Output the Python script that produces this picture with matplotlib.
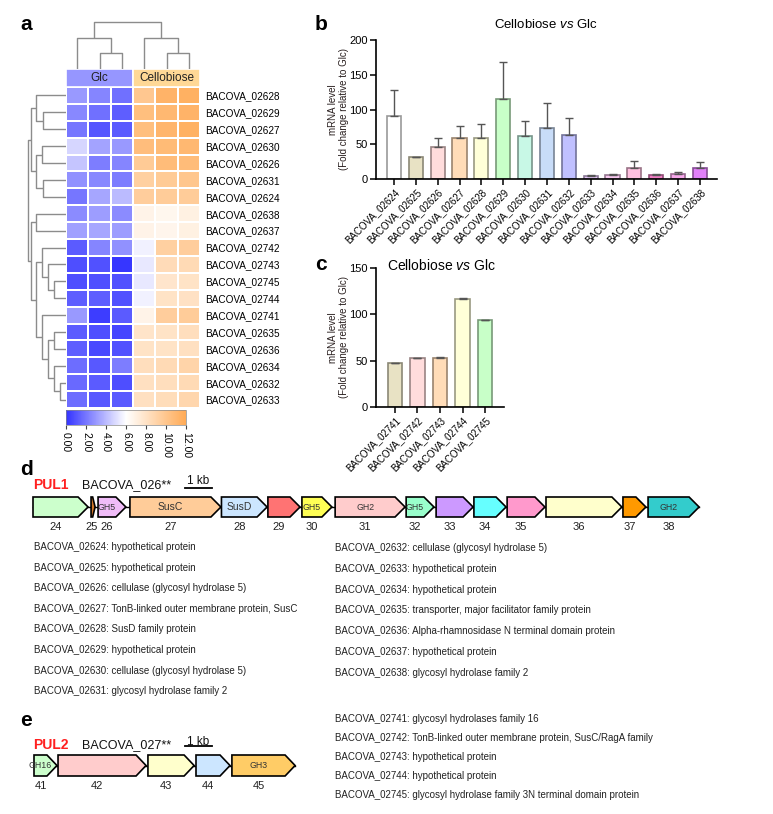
import numpy as np
import matplotlib
matplotlib.use('Agg')
import matplotlib.pyplot as plt
from matplotlib.colors import LinearSegmentedColormap, to_rgb
from matplotlib.patches import Polygon, Rectangle

plt.rcParams['font.family'] = ['Liberation Sans', 'DejaVu Sans']
plt.rcParams['mathtext.fontset'] = 'custom'
plt.rcParams['mathtext.it'] = 'Liberation Sans:italic'
plt.rcParams['mathtext.rm'] = 'Liberation Sans'

W, H = 773, 814

# ---------------- panel a : heatmap data ----------------
heat_genes = ['BACOVA_02628', 'BACOVA_02629', 'BACOVA_02627', 'BACOVA_02630',
              'BACOVA_02626', 'BACOVA_02631', 'BACOVA_02624', 'BACOVA_02638',
              'BACOVA_02637', 'BACOVA_02742', 'BACOVA_02743', 'BACOVA_02745',
              'BACOVA_02744', 'BACOVA_02741', 'BACOVA_02635', 'BACOVA_02636',
              'BACOVA_02634', 'BACOVA_02632', 'BACOVA_02633']
heat_glc = [[3.0, 2.4, 1.8], [2.5, 1.8, 1.3], [2.0, 1.0, 1.2], [4.8, 3.3, 3.0],
            [4.3, 2.2, 2.4], [2.8, 2.5, 2.2], [2.0, 3.4, 4.0], [2.6, 3.1, 2.6],
            [3.2, 3.4, 3.1], [1.2, 2.4, 2.8], [0.8, 0.9, 0.1], [0.8, 0.8, 0.9],
            [1.3, 1.3, 0.9], [3.0, 0.3, 1.2], [1.2, 0.8, 0.6], [1.3, 0.7, 0.9],
            [1.7, 1.1, 2.2], [1.6, 1.2, 0.8], [1.7, 1.1, 1.2]]
heat_cello = [[9.9, 11.3, 11.5], [10.5, 11.0, 11.3], [10.5, 11.2, 11.5], [10.6, 10.8, 11.0],
              [9.7, 10.7, 10.7], [9.3, 9.7, 10.0], [9.5, 9.6, 9.6], [6.8, 6.6, 7.0],
              [6.8, 6.7, 7.0], [5.6, 9.3, 9.5], [5.3, 8.5, 8.6], [5.3, 7.8, 8.0],
              [5.6, 8.0, 8.1], [6.8, 9.5, 9.6], [7.9, 8.0, 8.3], [8.0, 8.0, 8.2],
              [8.3, 8.6, 9.0], [8.2, 8.3, 8.6], [8.2, 8.4, 8.9]]
groups = ['Glc', 'Cellobiose']
cbar_ticks = [0, 2, 4, 6, 8, 10, 12]
# dendrograms: (height, left, right), leaves are column / row indices
col_tree = (47, (31, 0, (16, 1, 2)), (31, 3, (16, 4, 5)))
row_tree = (38,
            (35, (30, 0, (23, 1, 2)), (30, (24, 3, 4), (23, 5, 6))),
            (35, (30, 7, 8),
             (30, (24, 9, (18, 10, (12, 11, 12))),
              (24, 13, (18, (12, 14, 15), (12, 16, (6, 17, 18)))))))

# ---------------- panel b ----------------
b_genes = ['BACOVA_02624', 'BACOVA_02625', 'BACOVA_02626', 'BACOVA_02627', 'BACOVA_02628',
           'BACOVA_02629', 'BACOVA_02630', 'BACOVA_02631', 'BACOVA_02632', 'BACOVA_02633',
           'BACOVA_02634', 'BACOVA_02635', 'BACOVA_02636', 'BACOVA_02637', 'BACOVA_02638']
b_mean = [91, 31, 45.5, 58.5, 58.5, 115.5, 61.5, 73, 64, 3.8, 5.3, 15.3, 5.8, 7.2, 15.3]
b_err = [37, 0, 13, 17.5, 21, 52.5, 21.5, 37, 23.5, 1.5, 1.9, 10, 2, 2.4, 8.5]
b_colors = ['#ffffff', '#e8e2c4', '#ffdcdc', '#ffdcb8', '#ffffd8', '#c8ffc8', '#c8f8e6',
            '#c8dcf8', '#c0c0ff', '#e6c8f8', '#f8c8f0', '#ffc0e0', '#f07ec4', '#f8a8ec', '#e080f8']

# ---------------- panel c ----------------
c_genes = ['BACOVA_02741', 'BACOVA_02742', 'BACOVA_02743', 'BACOVA_02744', 'BACOVA_02745']
c_mean = [47, 52.8, 53.1, 116.8, 93.6]
c_err = [0.8, 0.5, 0.5, 1.0, 0.5]
c_colors = ['#e8e2c4', '#ffdcdc', '#ffdcb8', '#ffffd8', '#c8ffc8']

# ---------------- panel d ----------------
d_ids = ['24', '25', '26', '27', '28', '29', '30', '31', '32', '33', '34', '35', '36', '37', '38']
d_start = [0.0, 2.15, 2.41, 3.59, 6.98, 8.70, 9.96, 11.19, 13.82, 14.93, 16.33, 17.56, 19.00, 21.85, 22.78]
d_end = [2.04, 2.30, 3.44, 6.96, 8.67, 9.89, 11.07, 13.78, 14.85, 16.30, 17.52, 18.96, 21.81, 22.70, 24.67]
d_tags = ['', '', 'GH5', 'SusC', 'SusD', '', 'GH5', 'GH2', 'GH5', '', '', '', '', '', 'GH2']
d_colors = ['#ccffcc', '#d2782a', '#f0bcf8', '#ffcc99', '#cce6ff', '#ff7373', '#ffff55', '#ffcccc',
            '#99ffcc', '#cc99ff', '#66ffff', '#ff99cc', '#ffffcc', '#ff9900', '#33cccc']
d_left = ['BACOVA_02624: hypothetical protein',
          'BACOVA_02625: hypothetical protein',
          'BACOVA_02626: cellulase (glycosyl hydrolase 5)',
          'BACOVA_02627: TonB-linked outer membrane protein, SusC',
          'BACOVA_02628: SusD family protein',
          'BACOVA_02629: hypothetical protein',
          'BACOVA_02630: cellulase (glycosyl hydrolase 5)',
          'BACOVA_02631: glycosyl hydrolase family 2']
d_right = ['BACOVA_02632: cellulase (glycosyl hydrolase 5)',
           'BACOVA_02633: hypothetical protein',
           'BACOVA_02634: hypothetical protein',
           'BACOVA_02635: transporter, major facilitator family protein',
           'BACOVA_02636: Alpha-rhamnosidase N terminal domain protein',
           'BACOVA_02637: hypothetical protein',
           'BACOVA_02638: glycosyl hydrolase family 2']

# ---------------- panel e ----------------
e_ids = ['41', '42', '43', '44', '45']
e_start = [0.0, 0.89, 4.22, 6.00, 7.33]
e_end = [0.85, 4.15, 5.93, 7.26, 9.67]
e_tags = ['GH16', '', '', '', 'GH3']
e_colors = ['#ccffcc', '#ffcccc', '#ffffcc', '#cce6ff', '#ffcc66']
e_right = ['BACOVA_02741: glycosyl hydrolases family 16',
           'BACOVA_02742: TonB-linked outer membrane protein, SusC/RagA family',
           'BACOVA_02743: hypothetical protein',
           'BACOVA_02744: hypothetical protein',
           'BACOVA_02745: glycosyl hydrolase family 3N terminal domain protein']

KB_PX = 27.0


def px_axes(fig, x0, y0, x1, y1):
    return fig.add_axes([x0 / W, 1 - y1 / H, (x1 - x0) / W, (y1 - y0) / H])


def ftext(fig, x, y, s, **kw):
    kw.setdefault('va', 'center')
    fig.text(x / W, 1 - y / H, s, **kw)


def draw_tree(ax, tree, horizontal=False):
    if isinstance(tree, int):
        return tree + 0.5, 0.0
    h, left, right = tree
    p1, h1 = draw_tree(ax, left, horizontal)
    p2, h2 = draw_tree(ax, right, horizontal)
    ps = [p1, p1, p2, p2]
    hs = [h1, h, h, h2]
    if horizontal:
        ax.plot(hs, ps, color='#8c8c8c', lw=1.0, solid_capstyle='butt')
    else:
        ax.plot(ps, hs, color='#8c8c8c', lw=1.0, solid_capstyle='butt')
    return (p1 + p2) / 2, h


def darker(c, f=0.6):
    r, g, b = to_rgb(c)
    return (r * f, g * f, b * f)


def bar_panel(ax, names, mean, err, colors, ymax, step):
    x = np.arange(len(names))
    ax.bar(x, mean, width=0.65, color=colors,
           edgecolor=[darker(c) for c in colors], linewidth=1.2, zorder=2)
    ax.errorbar(x, mean, yerr=[np.zeros(len(err)), err], fmt='none',
                ecolor='#555555', elinewidth=1.0, capsize=3, capthick=1.0, zorder=3)
    ax.set_ylim(0, ymax)
    ax.set_yticks(np.arange(0, ymax + 1, step))
    ax.set_xticks(x)
    ax.set_xticklabels(names, rotation=45, ha='right', rotation_mode='anchor', fontsize=7)
    ax.tick_params(axis='y', labelsize=8, length=4, width=1.1, pad=2)
    ax.tick_params(axis='x', length=4, width=1.1, pad=2)
    for s in ['top', 'right']:
        ax.spines[s].set_visible(False)
    for s in ['left', 'bottom']:
        ax.spines[s].set_linewidth(1.2)
    ax.set_ylabel('mRNA level\n(Fold change relative to Glc)', fontsize=7, color='#2a2020',
                  linespacing=1.1)


def gene_track(fig, y0, y1, origin, starts, ends, colors, tags, ids, gy0, gy1, num_y, bar_x):
    ax = px_axes(fig, 0, y0, W, y1)
    ax.set_xlim(-origin / KB_PX, (W - origin) / KB_PX)
    ax.set_ylim(y1, y0)
    ax.axis('off')
    mid = (gy0 + gy1) / 2
    ax.plot([starts[0], ends[-1]], [mid, mid], color='black', lw=1.0, zorder=1)
    for s, e, c, t, n in zip(starts, ends, colors, tags, ids):
        tip = min(0.37, (e - s) * 0.6)
        pts = [(s, gy0), (e - tip, gy0), (e, mid), (e - tip, gy1), (s, gy1)]
        ax.add_patch(Polygon(pts, closed=True, facecolor=c, edgecolor='black', lw=1.2, zorder=2))
        cx = s + (e - s - tip) / 2
        if t:
            fs = 7.5 if t.startswith('Sus') else 6.3
            ax.text(cx, mid, t, ha='center', va='center', fontsize=fs, color='#333333', zorder=3)
        ax.text(cx, num_y, n, ha='center', va='center', fontsize=8, color='#222222')
    ax.plot([bar_x, bar_x + 1], [gy0 - 9, gy0 - 9], color='black', lw=1.3)
    return ax


def main():
    fig = plt.figure(figsize=(W / 100, H / 100), dpi=100)
    cmap = LinearSegmentedColormap.from_list('bwo', [(0, '#3333ff'), (0.5, '#ffffff'), (1, '#ffaa55')])

    # ---- a: heatmap
    data = np.hstack([np.array(heat_glc), np.array(heat_cello)])
    nrow = len(heat_genes)
    axh = px_axes(fig, 66, 87, 200, 408)
    mesh = axh.pcolormesh(data, cmap=cmap, vmin=0, vmax=12, edgecolors='white', linewidth=1.2)
    axh.set_xlim(0, 6)
    axh.set_ylim(nrow, 0)
    axh.set_xticks([])
    axh.yaxis.tick_right()
    axh.set_yticks(np.arange(nrow) + 0.5)
    axh.set_yticklabels(heat_genes, fontsize=7.2)
    axh.tick_params(axis='y', length=0, pad=4)
    for s in axh.spines.values():
        s.set_visible(False)

    axg = px_axes(fig, 66, 69, 200, 87)
    axg.set_xlim(0, 6)
    axg.set_ylim(0, 1)
    axg.axis('off')
    for i, (g, c) in enumerate(zip(groups, ['#9696ff', '#ffd896'])):
        axg.add_patch(Rectangle((3 * i, 0), 3, 1, facecolor=c, edgecolor='white', lw=1.2))
        axg.text(3 * i + 1.5, 0.5, g, ha='center', va='center', fontsize=8.5, color='#222222')

    axt = px_axes(fig, 66, 20, 200, 69)
    axt.set_xlim(0, 6)
    axt.set_ylim(0, 49)
    axt.axis('off')
    draw_tree(axt, col_tree)

    axl = px_axes(fig, 26, 87, 66, 408)
    axl.set_xlim(40, 0)
    axl.set_ylim(nrow, 0)
    axl.axis('off')
    draw_tree(axl, row_tree, horizontal=True)

    cax = px_axes(fig, 66, 410, 186, 425)
    cb = fig.colorbar(mesh, cax=cax, orientation='horizontal', ticks=cbar_ticks)
    cb.ax.set_xticklabels([f'{t:.2f}' for t in cbar_ticks], rotation=-90, fontsize=7.5)
    cb.outline.set_linewidth(0.5)
    cb.outline.set_edgecolor('#888888')
    cb.ax.tick_params(length=3, width=0.8, pad=2, color='#444444')

    # ---- b
    axb = px_axes(fig, 376, 40, 717, 179)
    bar_panel(axb, b_genes, b_mean, b_err, b_colors, 200, 50)
    axb.set_xlim(-0.82, 14.78)
    axb.yaxis.set_label_coords(-0.079, 0.5)
    ftext(fig, 546, 25, 'Cellobiose $\\it{vs}$ Glc', ha='center', fontsize=9.5)

    # ---- c
    axc = px_axes(fig, 376, 268, 504, 407)
    bar_panel(axc, c_genes, c_mean, c_err, c_colors, 150, 50)
    axc.set_xlim(-0.84, 4.84)
    axc.yaxis.set_label_coords(-0.21, 0.5)
    ftext(fig, 441, 265, 'Cellobiose $\\it{vs}$ Glc', ha='center', fontsize=10)

    # ---- panel letters
    for x, y, s in [(20, 25, 'a'), (315, 25, 'b'), (315, 265, 'c'), (20, 470, 'd'), (20, 721, 'e')]:
        ftext(fig, x, y, s, fontsize=15, fontweight='bold')

    # ---- d
    gene_track(fig, 470, 540, 33, d_start, d_end, d_colors, d_tags, d_ids, 497, 517, 527, (185 - 33) / KB_PX)
    ftext(fig, 33, 485, 'PUL1', fontsize=10, fontweight='bold', color='#ff2020')
    ftext(fig, 82, 485, 'BACOVA_026**', fontsize=9, color='#111111')
    ftext(fig, 198, 481, '1 kb', ha='center', fontsize=8.5, color='#111111')
    for i, s in enumerate(d_left):
        ftext(fig, 34, 547 + i * 20.6, s, fontsize=7, color='#222222')
    for i, s in enumerate(d_right):
        ftext(fig, 335, 548 + i * 20.8, s, fontsize=7, color='#222222')

    # ---- e
    gene_track(fig, 730, 800, 34, e_start, e_end, e_colors, e_tags, e_ids, 755, 776, 786, (185 - 34) / KB_PX)
    ftext(fig, 33, 745, 'PUL2', fontsize=10, fontweight='bold', color='#ff2020')
    ftext(fig, 82, 745, 'BACOVA_027**', fontsize=9, color='#111111')
    ftext(fig, 198, 742, '1 kb', ha='center', fontsize=8.5, color='#111111')
    for i, s in enumerate(e_right):
        ftext(fig, 335, 719 + i * 19, s, fontsize=7, color='#222222')

    fig.savefig('out.png', dpi=100)


if __name__ == "__main__":
    main()
